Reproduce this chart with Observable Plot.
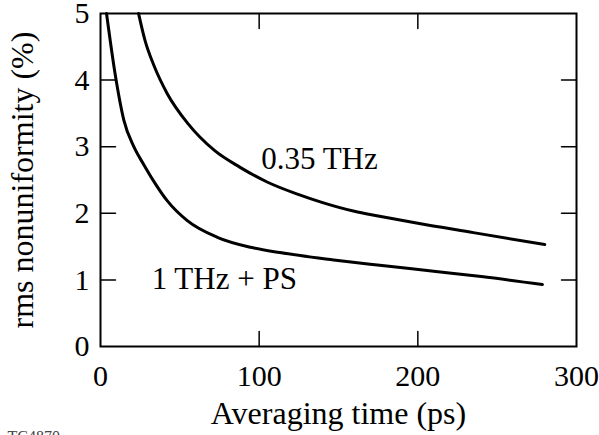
<!DOCTYPE html>
<html><head><meta charset="utf-8">
<script src="https://cdn.jsdelivr.net/npm/d3@7"></script>
<script src="https://cdn.jsdelivr.net/npm/@observablehq/plot@0.6"></script>
<style>body{margin:0;background:#fff;} svg text{font-family:"Liberation Serif","Times New Roman",serif;}</style>
</head><body><div id="chart"></div>
<script>
const xTicks = [0, 100, 200, 300];
const yTicks = [0, 1, 2, 3, 4, 5];
const xInnerTicks = [100, 200];
const yInnerTicks = [1, 2, 3, 4];
const xLabel = "Averaging time (ps)";
const yLabel = "rms nonuniformity (%)";
// 0.35 THz curve
const upperX = [24, 28, 34, 42, 55, 72, 88, 105, 125, 140, 160, 175, 200, 235, 280];
const upperY = [5.0, 4.6, 4.2, 3.8, 3.35, 2.94, 2.69, 2.47, 2.28, 2.16, 2.03, 1.96, 1.85, 1.71, 1.53];
// 1 THz + PS curve
const lowerX = [3.8, 9.5, 14.7, 21, 27.3, 33.6, 42, 54.7, 73.6, 94.6, 113, 147, 176, 210, 240, 278.5];
const lowerY = [5.0, 4.05, 3.4, 3.0, 2.73, 2.48, 2.19, 1.89, 1.64, 1.49, 1.41, 1.30, 1.22, 1.13, 1.05, 0.93];
const curveNames = ["0.35 THz", "1 THz + PS"];
const labelX = [138, 78];
const labelY = [2.82, 1.01];
const figureId = "TC4870";

const upper = upperX.map((x, i) => ({x, y: upperY[i]}));
const lower = lowerX.map((x, i) => ({x, y: lowerY[i]}));
const labels = curveNames.map((t, i) => ({t, x: labelX[i], y: labelY[i]}));

const font = "Liberation Serif";
const fsTick = 30, fsLabel = 32, fsNote = 31;
const tickLen = 15;
const tickShape = {draw(context, l) { context.moveTo(0, 0); context.lineTo(0, -l); }};
const tickOpts = {length: tickLen, anchor: "start", shape: tickShape, stroke: "black", strokeWidth: 1.5};

const chart = Plot.plot({
  width: 599, height: 435,
  marginTop: 13, marginBottom: 89, marginLeft: 100, marginRight: 23,
  style: {fontFamily: font, fontSize: fsTick + "px", background: "white", color: "black"},
  x: {domain: [0, 300]},
  y: {domain: [0, 5]},
  marks: [
    Plot.vector(xInnerTicks, {x: d => d, frameAnchor: "bottom", rotate: 0, ...tickOpts}),
    Plot.vector(xInnerTicks, {x: d => d, frameAnchor: "top", rotate: 180, ...tickOpts}),
    Plot.vector(yInnerTicks, {y: d => d, frameAnchor: "left", rotate: 90, ...tickOpts}),
    Plot.vector(yInnerTicks, {y: d => d, frameAnchor: "right", rotate: 270, ...tickOpts}),
    Plot.axisX(xTicks, {anchor: "bottom", tickSize: 0, tickPadding: 18, tickFormat: d3.format("d"), fontSize: fsTick, fontFamily: font, label: null}),
    Plot.axisY(yTicks, {anchor: "left", tickSize: 0, tickPadding: 11, tickFormat: d3.format("d"), fontSize: fsTick, fontFamily: font, label: null}),
    Plot.axisX([], {anchor: "bottom", tickSize: 0, fontSize: fsLabel, fontFamily: font, label: xLabel, labelAnchor: "center", labelArrow: "none", labelOffset: 77}),
    Plot.axisY([], {anchor: "left", tickSize: 0, fontSize: fsLabel, fontFamily: font, label: yLabel, labelAnchor: "center", labelArrow: "none", labelOffset: 90}),
    Plot.frame({stroke: "black", strokeWidth: 2}),
    Plot.line(upper, {x: "x", y: "y", stroke: "black", strokeWidth: 3, curve: "monotone-x"}),
    Plot.line(lower, {x: "x", y: "y", stroke: "black", strokeWidth: 3, curve: "monotone-x"}),
    Plot.text(labels, {x: "x", y: "y", text: "t", fontSize: fsNote, fontFamily: font, fill: "black"}),
    Plot.text([figureId], {frameAnchor: "bottom-left", text: d => d, dx: -93, dy: 95, fontSize: 16, fontFamily: font, textAnchor: "start", fill: "#444"})
  ]
});
document.getElementById("chart").appendChild(chart);
</script>
</body></html>
